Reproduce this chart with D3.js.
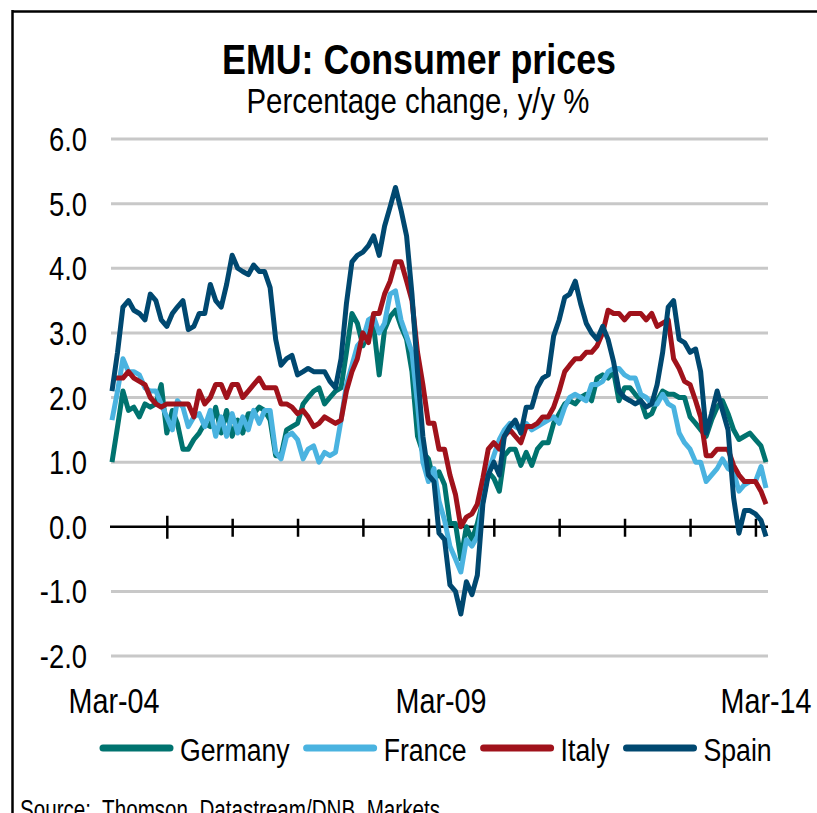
<!DOCTYPE html>
<html lang="en">
<head>
<meta charset="UTF-8">
<title>EMU: Consumer prices</title>
<script src="https://cdn.jsdelivr.net/npm/d3@7"></script>
<style>
body { margin: 0; background: #fff; }
text { font-family: "Liberation Sans Narrow", "Arial Narrow", "Liberation Sans", Arial, sans-serif; fill: #000; }
.src { white-space: pre; }
</style>
</head>
<body>
<svg width="817" height="813"></svg>
<script>
// monthly, Mar-04 .. Mar-14
var startMonth = new Date(2004, 2, 1);
var yTicks = [-2, -1, 0, 1, 2, 3, 4, 5, 6];
var xLabels = ["Mar-04", "Mar-09", "Mar-14"];
var countries = ["Germany", "France", "Italy", "Spain"];
var colors = ["#00736f", "#4ab3e0", "#a0121b", "#004870"];

var germany = [1.0, 1.55, 2.1, 1.8, 1.85, 1.7, 1.9, 1.85, 1.9, 2.2,
  1.45, 1.8, 1.6, 1.2, 1.2, 1.35, 1.45, 1.6, 1.55, 1.85, 1.45, 1.8,
  1.4, 1.65, 1.45, 1.75, 1.75, 1.85, 1.8, 1.65, 1.1, 1.1, 1.5, 1.55,
  1.6, 1.9, 2.0, 2.1, 2.15, 1.9, 2.0, 2.1, 2.15, 2.7, 3.3, 3.15,
  2.8, 3.0, 3.1, 2.35, 3.05, 3.25, 3.35, 3.1, 2.9, 2.4, 1.4, 1.15,
  1.05, 0.7, 0.85, 0.65, 0.05, 0.05, -0.5, 0.0, -0.2, 0.05, 0.4, 0.85,
  0.75, 0.55, 1.1, 1.2, 1.2, 0.95, 1.15, 0.95, 1.2, 1.3, 1.3, 1.6,
  1.75, 1.9, 1.95, 1.9, 2.0, 2.05, 1.95, 2.3, 2.35, 2.3, 2.4, 1.95,
  2.15, 2.15, 2.05, 1.95, 1.7, 1.75, 1.95, 2.1, 2.05, 2.05, 2.0, 2.0,
  1.7, 1.6, 1.5, 1.4, 1.65, 1.85, 1.95, 1.75, 1.5, 1.35, 1.4, 1.45,
  1.35, 1.25, 1.0];

var france = [1.65, 2.1, 2.6, 2.4, 2.4, 2.35, 2.15, 2.1, 2.1, 1.9,
  1.7, 1.5, 1.95, 1.85, 1.55, 1.7, 1.75, 1.55, 1.8, 1.4, 1.7, 1.4,
  1.75, 1.45, 1.7, 1.5, 1.8, 1.6, 1.8, 1.8, 1.15, 1.05, 1.4, 1.45,
  1.35, 1.05, 1.2, 1.25, 1.0, 1.15, 1.1, 1.15, 1.65, 2.2, 2.5, 2.8,
  2.9, 3.2, 3.25, 3.0, 3.15, 3.6, 3.65, 3.2, 2.95, 2.7, 1.9, 1.0,
  0.7, 0.9, 0.4, 0.1, -0.3, -0.5, -0.7, -0.2, -0.3, -0.15, 0.4, 0.85,
  1.1, 1.35, 1.5, 1.6, 1.55, 1.5, 1.6, 1.5, 1.55, 1.6, 1.65, 1.7,
  1.6, 1.85, 2.0, 2.05, 2.0, 1.95, 2.2, 2.2, 2.25, 2.4, 2.45, 2.45,
  2.35, 2.3, 2.3, 2.05, 2.0, 1.9, 1.9, 2.05, 1.9, 1.85, 1.45, 1.3,
  1.2, 1.0, 1.0, 0.7, 0.8, 0.9, 1.05, 0.9, 0.85, 0.55, 0.65, 0.7,
  0.7, 0.93, 0.6];

var italy = [2.3, 2.3, 2.3, 2.4, 2.3, 2.25, 2.2, 2.0, 1.9, 1.85,
  1.9, 1.9, 1.9, 1.9, 1.9, 1.7, 2.1, 1.9, 2.0, 2.2, 2.2, 2.0,
  2.2, 2.2, 2.0, 2.1, 2.2, 2.3, 2.15, 2.15, 2.15, 1.9, 1.9, 1.85,
  1.75, 1.8, 1.7, 1.55, 1.6, 1.7, 1.65, 1.6, 1.65, 2.1, 2.4, 2.6,
  3.0, 2.85, 3.3, 3.3, 3.6, 3.8, 4.1, 4.1, 3.8, 3.5, 2.7, 2.2,
  1.6, 1.6, 1.2, 1.2, 0.8, 0.5, 0.0, 0.15, 0.2, 0.35, 0.75, 1.2,
  1.3, 1.2, 1.4, 1.5, 1.4, 1.3, 1.55, 1.55, 1.6, 1.7, 1.7, 1.85,
  2.1, 2.4, 2.5, 2.6, 2.6, 2.7, 2.7, 2.8, 3.0, 3.35, 3.3, 3.3,
  3.2, 3.3, 3.3, 3.3, 3.2, 3.3, 3.1, 3.15, 3.2, 2.6, 2.45, 2.25,
  2.2, 1.95, 1.7, 1.1, 1.1, 1.2, 1.2, 1.2, 0.95, 0.8, 0.7, 0.7,
  0.7, 0.55, 0.35];

var spain = [2.1, 2.7, 3.4, 3.5, 3.35, 3.3, 3.2, 3.6, 3.5, 3.2,
  3.1, 3.3, 3.4, 3.5, 3.05, 3.1, 3.3, 3.3, 3.75, 3.5, 3.4, 3.75,
  4.2, 4.0, 3.95, 3.9, 4.05, 3.95, 3.95, 3.7, 2.9, 2.5, 2.6, 2.65,
  2.35, 2.4, 2.45, 2.4, 2.4, 2.4, 2.25, 2.15, 2.6, 3.45, 4.1, 4.2,
  4.25, 4.35, 4.5, 4.2, 4.65, 4.95, 5.25, 4.9, 4.5, 3.6, 2.4, 1.4,
  0.8, 0.7, -0.1, -0.2, -0.9, -1.0, -1.35, -0.85, -1.05, -0.75, 0.35, 0.8,
  1.0, 0.8, 1.4, 1.55, 1.65, 1.45, 1.85, 1.85, 2.15, 2.3, 2.35, 2.95,
  3.2, 3.55, 3.6, 3.8, 3.45, 3.15, 3.0, 2.9, 3.1, 2.9, 2.55, 2.1,
  2.0, 1.95, 1.9, 1.95, 1.85, 1.9, 2.2, 2.7, 3.4, 3.5, 2.9, 2.85,
  2.7, 2.75, 2.4, 1.45, 1.75, 2.1, 1.8, 1.5, 0.45, -0.1, 0.25, 0.25,
  0.2, 0.1, -0.15];

var seriesValues = [germany, france, italy, spain];

var svg = d3.select("svg");

// the chart font is a condensed one; squeeze the installed sans to fit
function squeeze(t, f) {
  var w = t.node().getComputedTextLength();
  t.attr("textLength", w * f).attr("lengthAdjust", "spacingAndGlyphs");
  return w * f;
}

// frame
svg.append("line").attr("x1", 12).attr("x2", 817).attr("y1", 11.5).attr("y2", 11.5)
  .attr("stroke", "#000").attr("stroke-width", 2.5);
svg.append("line").attr("x1", 12.5).attr("x2", 12.5).attr("y1", 10).attr("y2", 813)
  .attr("stroke", "#000").attr("stroke-width", 2.5);

var endMonth = d3.timeMonth.offset(startMonth, germany.length - 1);
var x = d3.scaleTime().domain([startMonth, endMonth]).range([112, 766]);
var y = d3.scaleLinear().domain([-2, 6]).range([656, 139]);

// gridlines
svg.append("g").selectAll("line").data(yTicks.filter(function(d) { return d !== 0; }))
  .enter().append("line")
  .attr("x1", 111).attr("x2", 768)
  .attr("y1", function(d) { return y(d); }).attr("y2", function(d) { return y(d); })
  .attr("stroke", "#c8c8c8").attr("stroke-width", 3);

// y labels
svg.append("g").selectAll("text").data(yTicks).enter().append("text")
  .attr("x", 87).attr("y", function(d) { return y(d) + 12; })
  .attr("text-anchor", "end").style("font-size", "33px")
  .text(function(d) { return d.toFixed(1); })
  .each(function() { squeeze(d3.select(this), 0.83); });

// zero axis with yearly ticks
var yearTicks = d3.timeMonth.every(12).range(startMonth, d3.timeMonth.offset(endMonth, 1));
var xAxis = d3.axisBottom(x).tickValues(yearTicks).tickSize(0).tickFormat("");
var ax = svg.append("g").attr("transform", "translate(0," + y(0) + ")").call(xAxis);
ax.select(".domain").attr("stroke", "#000").attr("stroke-width", 2.5)
  .attr("d", "M" + 110 + ",0H" + 768);
ax.selectAll(".tick line").attr("stroke", "#000").attr("stroke-width", 2.5)
  .attr("y1", function(d, i) { return i === 0 ? -11 : -8; })
  .attr("y2", function(d, i) { return i === 0 ? 12 : 10; });

// x labels
var labelDates = [startMonth, d3.timeMonth.offset(startMonth, 60), endMonth];
svg.append("g").selectAll("text").data(labelDates).enter().append("text")
  .attr("x", function(d, i) { return x(d) + (i === 2 ? 0 : 2); }).attr("y", 713)
  .attr("text-anchor", "middle").style("font-size", "35px")
  .text(function(d, i) { return xLabels[i]; })
  .each(function() { squeeze(d3.select(this), 0.82); });

// lines
var line = d3.line()
  .x(function(d, i) { return x(d3.timeMonth.offset(startMonth, i)); })
  .y(function(d) { return y(d); });
svg.append("g").selectAll("path").data(seriesValues).enter().append("path")
  .attr("d", line)
  .attr("fill", "none")
  .attr("stroke", function(d, i) { return colors[i]; })
  .attr("stroke-width", 5)
  .attr("stroke-linejoin", "round");

// title
var title = svg.append("text").attr("x", 419).attr("y", 74).attr("text-anchor", "middle")
  .style("font-size", "43px").style("font-weight", "bold")
  .text("EMU: Consumer prices");
title.attr("textLength", 394).attr("lengthAdjust", "spacingAndGlyphs");
svg.append("text").attr("x", 418).attr("y", 113).attr("text-anchor", "middle")
  .style("font-size", "35px")
  .text("Percentage change, y/y %")
  .attr("textLength", 343).attr("lengthAdjust", "spacingAndGlyphs");

// legend
var lg = svg.append("g");
var lx = 100;
countries.forEach(function(c, i) {
  lg.append("line").attr("x1", lx + 3).attr("x2", lx + 70).attr("y1", 748).attr("y2", 748)
    .attr("stroke", colors[i]).attr("stroke-width", 7).attr("stroke-linecap", "round");
  var t = lg.append("text").attr("x", lx + 80).attr("y", 761).style("font-size", "31px").text(c);
  var w = squeeze(t, 0.86);
  lx = lx + 80 + w + 14;
});

// source
svg.append("text").attr("class", "src").attr("x", 20).attr("y", 819)
  .style("font-size", "27px")
  .text("Source:  Thomson  Datastream/DNB  Markets")
  .attr("textLength", 420).attr("lengthAdjust", "spacingAndGlyphs");
</script>
</body>
</html>
